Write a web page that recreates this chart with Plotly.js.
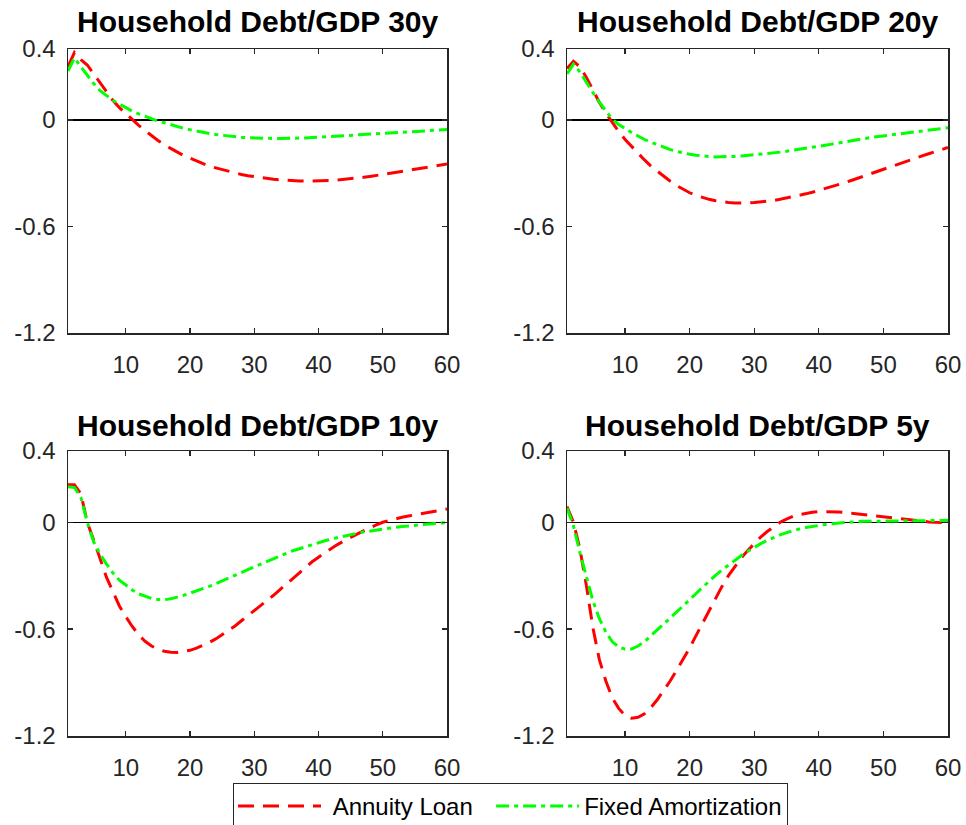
<!DOCTYPE html>
<html>
<head>
<meta charset="utf-8">
<script src="https://cdn.plot.ly/plotly-3.0.1.min.js"></script>
<style>html,body{margin:0;padding:0;background:#fff;}#chart{width:966px;height:825px;}</style>
</head>
<body>
<div id="chart"></div>
<script>
// Periods (horizon 1..60)
const periods = [];
for (let i = 1; i <= 60; i++) periods.push(i);

const panelTitles = ["Household Debt/GDP 30y", "Household Debt/GDP 20y", "Household Debt/GDP 10y", "Household Debt/GDP 5y"];
const seriesNames = ["Annuity Loan", "Fixed Amortization"];
const yTickVals = [-1.2, -0.6, 0, 0.4];
const yTickText = ["-1.2", "-0.6", "0", "0.4"];
const xTickVals = [10, 20, 30, 40, 50, 60];

// 30y
const annuity30 = [0.30,0.38,0.34,0.31,0.26,0.21,0.16,0.11,0.07,0.035,0.005,-0.03,-0.06,-0.09,-0.115,-0.14,-0.16,-0.18,-0.20,-0.215,
 -0.23,-0.245,-0.26,-0.27,-0.28,-0.29,-0.30,-0.307,-0.314,-0.32,-0.325,-0.33,-0.334,-0.337,-0.34,-0.342,-0.343,-0.344,-0.344,-0.344,
 -0.343,-0.341,-0.338,-0.335,-0.331,-0.327,-0.323,-0.318,-0.313,-0.307,-0.302,-0.296,-0.29,-0.284,-0.278,-0.272,-0.266,-0.26,-0.254,-0.248];
const fixed30 = [0.276,0.35,0.30,0.25,0.205,0.165,0.135,0.11,0.09,0.07,0.05,0.035,0.02,0.007,-0.005,-0.016,-0.027,-0.037,-0.047,-0.055,
 -0.063,-0.07,-0.076,-0.082,-0.087,-0.091,-0.095,-0.098,-0.100,-0.102,-0.103,-0.104,-0.104,-0.104,-0.104,-0.103,-0.102,-0.101,-0.099,-0.097,
 -0.095,-0.093,-0.091,-0.089,-0.087,-0.085,-0.082,-0.08,-0.077,-0.075,-0.073,-0.071,-0.068,-0.066,-0.064,-0.062,-0.06,-0.058,-0.056,-0.054];
// 20y
const annuity20 = [0.29,0.33,0.30,0.24,0.17,0.10,0.04,-0.015,-0.065,-0.11,-0.15,-0.19,-0.225,-0.26,-0.29,-0.32,-0.345,-0.37,-0.39,-0.41,
 -0.425,-0.437,-0.447,-0.455,-0.461,-0.465,-0.467,-0.468,-0.467,-0.465,-0.462,-0.458,-0.453,-0.447,-0.44,-0.433,-0.425,-0.416,-0.407,-0.397,
 -0.387,-0.376,-0.365,-0.353,-0.341,-0.328,-0.315,-0.302,-0.289,-0.276,-0.263,-0.25,-0.238,-0.226,-0.214,-0.202,-0.19,-0.178,-0.166,-0.155];
const fixed20 = [0.26,0.315,0.27,0.21,0.155,0.10,0.05,0.005,-0.025,-0.05,-0.07,-0.09,-0.11,-0.125,-0.14,-0.155,-0.167,-0.177,-0.186,-0.193,
 -0.198,-0.203,-0.206,-0.208,-0.208,-0.207,-0.205,-0.203,-0.2,-0.197,-0.194,-0.19,-0.186,-0.181,-0.176,-0.171,-0.166,-0.16,-0.154,-0.148,
 -0.142,-0.136,-0.129,-0.123,-0.117,-0.111,-0.105,-0.099,-0.094,-0.089,-0.084,-0.079,-0.074,-0.069,-0.064,-0.06,-0.056,-0.052,-0.048,-0.044];
// 10y
const annuity10 = [0.21,0.21,0.16,0.0,-0.10,-0.21,-0.31,-0.39,-0.47,-0.53,-0.585,-0.632,-0.668,-0.695,-0.712,-0.724,-0.73,-0.731,-0.727,-0.719,
 -0.707,-0.692,-0.675,-0.655,-0.632,-0.608,-0.582,-0.553,-0.525,-0.497,-0.469,-0.44,-0.41,-0.378,-0.346,-0.314,-0.282,-0.25,-0.222,-0.196,
 -0.17,-0.147,-0.124,-0.103,-0.085,-0.067,-0.048,-0.031,-0.015,0.0,0.01,0.02,0.028,0.035,0.042,0.049,0.056,0.062,0.068,0.074];
const fixed10 = [0.20,0.195,0.14,0.0,-0.11,-0.18,-0.235,-0.285,-0.325,-0.355,-0.38,-0.402,-0.417,-0.428,-0.434,-0.435,-0.43,-0.421,-0.41,-0.398,
 -0.386,-0.373,-0.36,-0.345,-0.33,-0.314,-0.298,-0.282,-0.266,-0.25,-0.234,-0.218,-0.203,-0.188,-0.174,-0.16,-0.148,-0.136,-0.125,-0.114,
 -0.104,-0.094,-0.085,-0.077,-0.069,-0.062,-0.055,-0.049,-0.043,-0.038,-0.033,-0.028,-0.024,-0.02,-0.016,-0.013,-0.01,-0.007,-0.004,-0.002];
// 5y
const annuity5 = [0.088,0.0,-0.15,-0.355,-0.59,-0.77,-0.89,-0.985,-1.045,-1.085,-1.1,-1.095,-1.075,-1.04,-0.995,-0.945,-0.89,-0.83,-0.77,-0.705,
 -0.635,-0.565,-0.495,-0.425,-0.36,-0.3,-0.248,-0.2,-0.158,-0.12,-0.083,-0.052,-0.025,0.0,0.018,0.033,0.043,0.051,0.056,0.059,
 0.06,0.06,0.058,0.055,0.051,0.047,0.043,0.038,0.034,0.029,0.024,0.02,0.016,0.012,0.008,0.005,0.002,0.0,-0.001,-0.002];
const fixed5 = [0.08,-0.02,-0.17,-0.31,-0.44,-0.54,-0.615,-0.67,-0.7,-0.713,-0.712,-0.695,-0.67,-0.637,-0.602,-0.57,-0.537,-0.503,-0.47,-0.435,
 -0.4,-0.365,-0.33,-0.298,-0.268,-0.24,-0.213,-0.187,-0.163,-0.14,-0.12,-0.102,-0.085,-0.071,-0.058,-0.047,-0.038,-0.03,-0.023,-0.017,
 -0.012,-0.008,-0.004,-0.001,0.002,0.004,0.005,0.006,0.007,0.008,0.008,0.008,0.009,0.009,0.009,0.009,0.01,0.01,0.01,0.01];

const annuitySets = [annuity30, annuity20, annuity10, annuity5];
const fixedSets = [fixed30, fixed20, fixed10, fixed5];

const W = 966, H = 825;
const FONT = "Liberation Sans, Arial, Helvetica, sans-serif";
const AXC = "#262626";
// pixel boxes of plot areas [left, right, top, bottom]
const boxes = [[68,447,49,333],[567,948,49,333],[68,447,451,736],[567,948,451,736]];
const titleY = [22, 22, 425, 425];
const NB = "\u00A0";

const traces = [];
const layout = {
  width: W, height: H,
  margin: {l:0, r:0, t:0, b:0, autoexpand: false},
  paper_bgcolor: "#fff", plot_bgcolor: "#fff",
  showlegend: true,
  font: {family: FONT, color: AXC},
  annotations: [],
  legend: {
    orientation: "h", x: 233/W, xanchor: "left", y: 1 - 783/H, yanchor: "top",
    bordercolor: AXC, borderwidth: 1, bgcolor: "#fff",
    font: {family: FONT, size: 24, color: "#000"},
    itemwidth: 83, tracegroupgap: 0
  }
};

for (let k = 0; k < 4; k++) {
  const sfx = k === 0 ? "" : String(k + 1);
  const xa = "x" + sfx, ya = "y" + sfx;
  traces.push({
    x: periods, y: annuitySets[k], xaxis: xa, yaxis: ya, type: "scatter", mode: "lines",
    name: NB + seriesNames[0] + NB + NB, legendgroup: "a", showlegend: k === 0,
    line: {color: "#ff0000", width: 3, dash: "16px,9px"}
  });
  traces.push({
    x: periods, y: fixedSets[k], xaxis: xa, yaxis: ya, type: "scatter", mode: "lines",
    name: seriesNames[1], legendgroup: "f", showlegend: k === 0,
    line: {color: "#00ff00", width: 3, dash: "13px,5px,4px,5px"}
  });
  const b = boxes[k];
  layout["xaxis" + sfx] = {
    domain: [b[0]/W, b[1]/W], anchor: ya, range: [1, 60],
    tickvals: xTickVals, ticktext: xTickVals.map(String),
    ticks: "inside", ticklen: 5, tickwidth: 1.3, tickcolor: AXC,
    showline: true, linecolor: AXC, linewidth: 1.5, mirror: "ticks",
    showgrid: false, zeroline: false, ticklabelstandoff: 10,
    tickfont: {family: FONT, size: 24, color: AXC}
  };
  layout["yaxis" + sfx] = {
    domain: [1 - b[3]/H, 1 - b[2]/H], anchor: xa, range: [-1.2, 0.4],
    tickvals: yTickVals, ticktext: yTickText,
    ticks: "inside", ticklen: 5, tickwidth: 1.3, tickcolor: AXC,
    showline: true, linecolor: AXC, linewidth: 1.5, mirror: "ticks",
    showgrid: false, zeroline: true, zerolinecolor: "#000", zerolinewidth: 1.5,
    ticklabelstandoff: 6,
    tickfont: {family: FONT, size: 24, color: AXC}
  };
  layout.annotations.push({
    text: "<b>" + panelTitles[k] + "</b>", xref: "paper", yref: "paper",
    x: (b[0] + b[1]) / 2 / W, y: 1 - titleY[k]/H, xanchor: "center", yanchor: "middle",
    showarrow: false, font: {family: FONT, size: 30, color: "#000"}
  });
}

Plotly.newPlot("chart", traces, layout, {staticPlot: true, displayModeBar: false});
</script>
</body>
</html>
